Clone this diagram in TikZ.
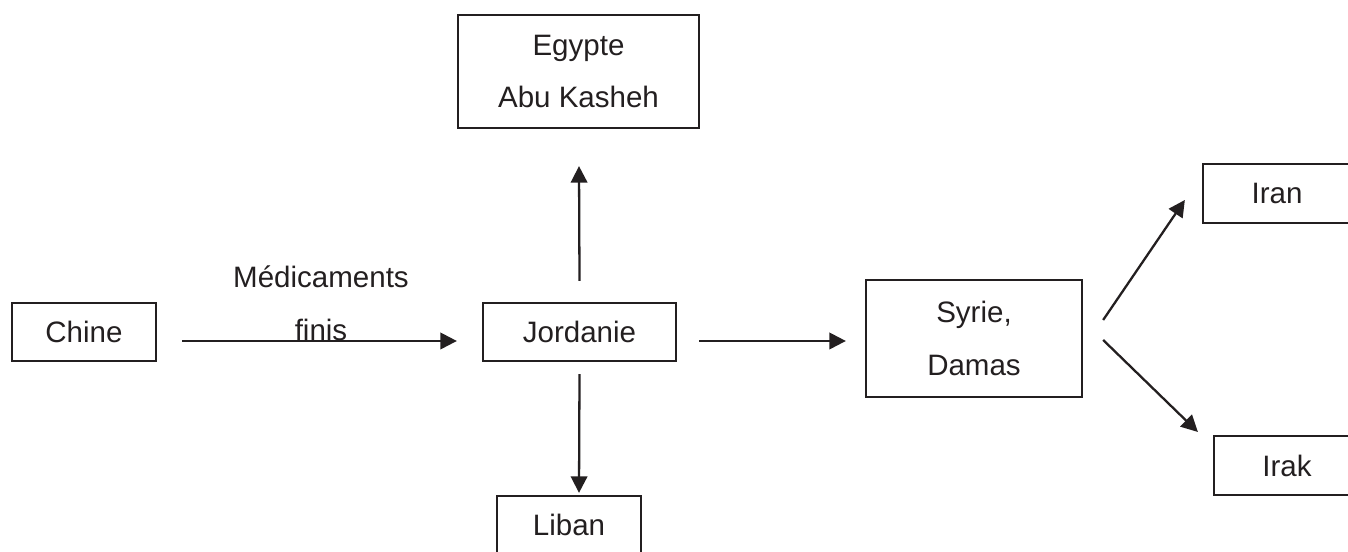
\documentclass[tikz,border=0pt]{standalone}
\usepackage{fontspec}
\setmainfont{Liberation Sans}
\usetikzlibrary{arrows.meta}
\definecolor{ink}{HTML}{231F20}
\begin{document}
\begin{tikzpicture}[
        box/.style={draw=ink, line width=1.3pt, align=center, text=ink,
          font=\fontsize{16.8}{30}\selectfont, inner sep=0pt},
        arr/.style={draw=ink, line width=1.3pt,
          -{Triangle[length=0.33cm, width=0.33cm]}}
      ]
        \useasboundingbox (0,0) rectangle (26.96,11.04);

        \node [box, minimum width=2.88cm, minimum height=1.16cm] (chine) at (1.68, 4.40) {Chine};
        \node [box, minimum width=3.86cm, minimum height=1.16cm] (jordanie) at (11.59, 4.40) {Jordanie};
        \node [box, minimum width=4.82cm, minimum height=2.26cm] (egypte) at (11.57, 9.61) {Egypte\\Abu Kasheh};
        \node [box, minimum width=2.88cm, minimum height=1.16cm] (liban) at (11.38, 0.54) {Liban};
        \node [box, minimum width=4.32cm, minimum height=2.34cm] (syrie) at (19.48, 4.27) {Syrie,\\Damas};
        \node [box, minimum width=2.96cm, minimum height=1.18cm] (iran) at (25.54, 7.17) {Iran};
        \node [box, minimum width=2.92cm, minimum height=1.18cm] (irak) at (25.74, 1.73) {Irak};

        \node [align=center, text=ink, inner sep=0pt, font=\fontsize{16.8}{30}\selectfont]
          (medic) at (6.42, 4.98) {Médicaments\\finis};

        \draw [arr] ([shift={(0.5,-0.18)}]chine.east) -- ([shift={(-0.5,-0.18)}]jordanie.west);
        \draw [arr] ([shift={(0.44,-0.18)}]jordanie.east) -- ([shift={(-0.38,-0.05)}]syrie.west);
        \draw [arr] ([yshift=0.42cm]jordanie.north) -- ([shift={(0.01,-0.74)}]egypte.south);
        \draw [arr] ([yshift=-0.24cm]jordanie.south) -- ([shift={(0.2,0.04)}]liban.north);
        \draw [arr] ([shift={(0.4,0.37)}]syrie.east) -- ([shift={(-0.34,-0.13)}]iran.west);
        \draw [arr] ([shift={(0.4,-0.03)}]syrie.east) -- ([shift={(-0.3,0.67)}]irak.west);
      \end{tikzpicture}
\end{document}
